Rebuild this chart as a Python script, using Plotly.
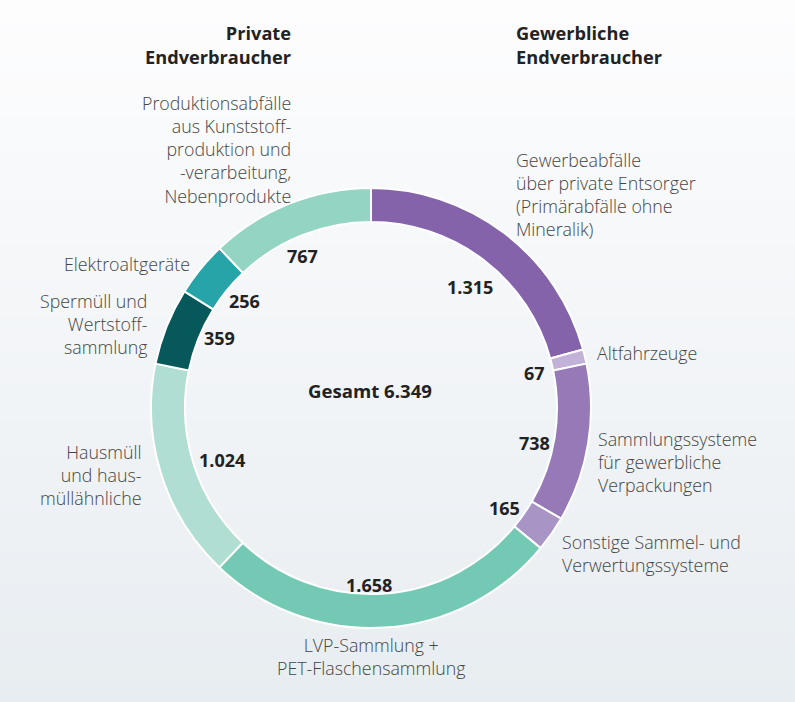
import math
import plotly.graph_objects as go

# ---- data ----
categories = [
    "Gewerbeabfälle über private Entsorger (Primärabfälle ohne Mineralik)",
    "Altfahrzeuge",
    "Sammlungssysteme für gewerbliche Verpackungen",
    "Sonstige Sammel- und Verwertungssysteme",
    "LVP-Sammlung + PET-Flaschensammlung",
    "Hausmüll und hausmüllähnliche",
    "Spermüll und Wertstoffsammlung",
    "Elektroaltgeräte",
    "Produktionsabfälle aus Kunststoffproduktion und -verarbeitung, Nebenprodukte",
]
values = [1315, 67, 738, 165, 1658, 1024, 359, 256, 767]
value_labels = ["1.315", "67", "738", "165", "1.658", "1.024", "359", "256", "767"]
total_label = "Gesamt 6.349"
colors = ["#8463AA", "#C3B2D8", "#9679B6", "#A994C6", "#74C9B5",
          "#B0DED2", "#07585A", "#26A4A8", "#93D4C3"]

# outside label texts, line by line as in the reference
outer_lines = [
    ["Gewerbeabfälle", "über private Entsorger", "(Primärabfälle ohne", "Mineralik)"],
    ["Altfahrzeuge"],
    ["Sammlungssysteme", "für gewerbliche", "Verpackungen"],
    ["Sonstige Sammel- und", "Verwertungssysteme"],
    ["LVP-Sammlung +", "PET-Flaschensammlung"],
    ["Hausmüll", "und haus-", "müllähnliche"],
    ["Spermüll und", "Wertstoff-", "sammlung"],
    ["Elektroaltgeräte"],
    ["Produktionsabfälle", "aus Kunststoff-", "produktion und", "-verarbeitung,", "Nebenprodukte"],
]
header_left = ["Private", "Endverbraucher"]
header_right = ["Gewerbliche", "Endverbraucher"]

# ---- layout constants (pixels) ----
W, H = 795, 702
CX, CY, R_OUT, R_IN = 371, 408, 220, 186
FONT = "Open Sans"
REF_LINE = 21.6

# outer label anchors: (x, first line centre y, xanchor)
outer_pos = [
    (514, 162, "left"),
    (595, 353, "left"),
    (596, 440, "left"),
    (560, 543, "left"),
    (371, 646, "center"),
    (144, 453, "right"),
    (150, 302, "right"),
    (192, 264, "right"),
    (293, 106, "right"),
]
# small manual nudges of the value labels (dx, dy) in pixels
value_nudge = [(3, 6), (0, 4), (2, 9), (0, 7), (-12, 7), (-1, 6), (-1, -10), (-1, -4), (-7, 3)]


def px(x):
    return x / W


def py(y):
    return 1 - y / H


fig = go.Figure()

fig.add_trace(go.Pie(
    values=values,
    labels=categories,
    sort=False,
    direction="clockwise",
    rotation=0,
    hole=R_IN / R_OUT,
    marker=dict(colors=colors, line=dict(color="white", width=2)),
    textinfo="none",
    hoverinfo="label+value",
    showlegend=False,
    domain=dict(x=[px(CX - R_OUT), px(CX + R_OUT)],
                y=[py(CY + R_OUT), py(CY - R_OUT)]),
))

annotations = []

# value labels inside the hole, placed by slice mid-angle
tot = sum(values)
cum = 0
for v, lab, (dx, dy) in zip(values, value_labels, value_nudge):
    mid = (cum + v / 2) / tot * 2 * math.pi
    cum += v
    s, c = math.sin(mid), math.cos(mid)
    w = sum(5 if ch == "." else 11 for ch in lab) / 2
    h = 9
    r = R_IN - 5 - (abs(s) * w + abs(c) * h)
    x = CX + r * s + dx
    y = CY - r * c + dy
    annotations.append(dict(
        x=px(x), y=py(y), xref="paper", yref="paper",
        text=f"<b>{lab}</b>", showarrow=False,
        xanchor="center", yanchor="middle",
        font=dict(family=FONT, size=18, color="#222222"),
    ))

# outer category labels (one multi-line text each, centred on the reference block)
for lines, (x, y0, xa) in zip(outer_lines, outer_pos):
    yc = y0 + (len(lines) - 1) * REF_LINE / 2
    annotations.append(dict(
        x=px(x), y=py(yc), xref="paper", yref="paper",
        text="<br>".join(lines), showarrow=False, xanchor=xa, yanchor="middle",
        align=xa,
        font=dict(family=FONT, size=17.8, color="#454545", weight=300),
    ))

# headers
for lines, x, xa in [(header_left, 293, "right"), (header_right, 514, "left")]:
    annotations.append(dict(
        x=px(x), y=py(34 + 21.5 / 2), xref="paper", yref="paper",
        text="<br>".join(f"<b>{t}</b>" for t in lines), showarrow=False,
        xanchor=xa, yanchor="middle", align=xa,
        font=dict(family=FONT, size=18.2, color="#222222"),
    ))

# total in the centre
annotations.append(dict(
    x=px(370), y=py(390), xref="paper", yref="paper", text=f"<b>{total_label}</b>",
    showarrow=False, xanchor="center", yanchor="middle",
    font=dict(family=FONT, size=18.6, color="#222222"),
))

# background vertical gradient
shapes = []
N = 60
top_rgb = (253, 253, 254)
bot_rgb = (232, 237, 241)
for i in range(N):
    t = i / (N - 1)
    col = tuple(round(top_rgb[k] + (bot_rgb[k] - top_rgb[k]) * t) for k in range(3))
    shapes.append(dict(
        type="rect", xref="paper", yref="paper", layer="below",
        x0=0, x1=1, y0=1 - (i + 1) / N, y1=1 - i / N + 0.001,
        fillcolor="rgb(%d,%d,%d)" % col, line=dict(width=0),
    ))

fig.update_layout(
    width=W, height=H,
    margin=dict(l=0, r=0, t=0, b=0),
    paper_bgcolor="rgb(243,246,248)",
    plot_bgcolor="rgba(0,0,0,0)",
    annotations=annotations,
    shapes=shapes,
    font=dict(family=FONT),
)

fig.write_html(
    "out.html",
    config={"displayModeBar": False},
    post_script="document.body.style.margin='0';document.body.style.overflow='hidden';",
)
